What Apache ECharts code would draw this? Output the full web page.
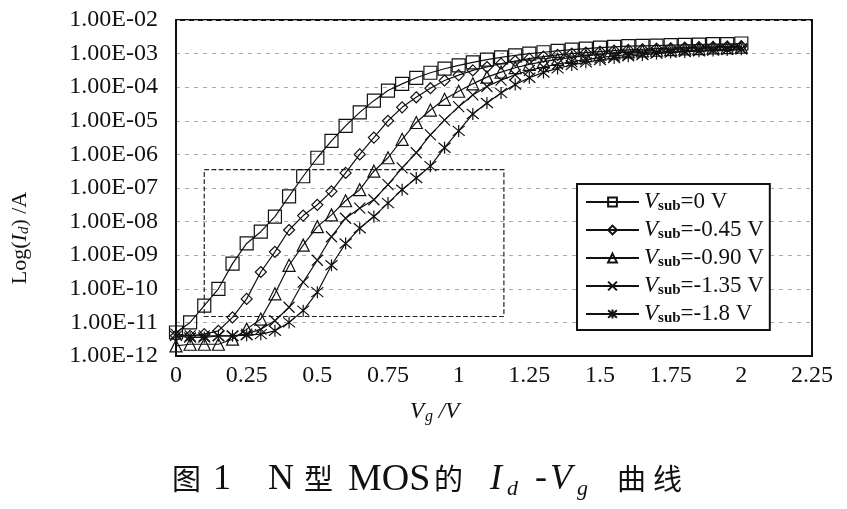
<!DOCTYPE html>
<html>
<head>
<meta charset="utf-8">
<script src="https://cdn.jsdelivr.net/npm/echarts@6/dist/echarts.min.js"></script>
<style>
  html, body { margin: 0; padding: 0; background: #fff; }
  #chart { width: 847px; height: 509px; }
</style>
</head>
<body>
<div id="chart"></div>
<script>
// gate voltage Vg (V)
var vg = [0, 0.05, 0.1, 0.15, 0.2, 0.25, 0.3, 0.35, 0.4, 0.45,
          0.5, 0.55, 0.6, 0.65, 0.7, 0.75, 0.8, 0.85, 0.9, 0.95,
          1.0, 1.05, 1.1, 1.15, 1.2, 1.25, 1.3, 1.35, 1.4, 1.45,
          1.5, 1.55, 1.6, 1.65, 1.7, 1.75, 1.8, 1.85, 1.9, 1.95, 2.0];

// log10(Id)
var sub0 = [-11.3, -11.0, -10.5, -10.0, -9.25, -8.65, -8.3, -7.85, -7.25, -6.65,
            -6.1, -5.6, -5.15, -4.75, -4.4, -4.1, -3.9, -3.72, -3.57, -3.45,
            -3.35, -3.26, -3.18, -3.11, -3.05, -3.0, -2.96, -2.92, -2.88, -2.85,
            -2.82, -2.8, -2.78, -2.77, -2.76, -2.75, -2.74, -2.73, -2.72, -2.72, -2.7];
var sub045 = [-11.4, -11.4, -11.35, -11.25, -10.85, -10.3, -9.5, -8.9, -8.25, -7.82,
              -7.5, -7.1, -6.55, -6.0, -5.5, -5.0, -4.6, -4.3, -4.03, -3.8,
              -3.64, -3.5, -3.4, -3.3, -3.22, -3.15, -3.09, -3.04, -3.0, -2.97,
              -2.94, -2.91, -2.89, -2.87, -2.85, -2.84, -2.82, -2.81, -2.8, -2.79, -2.78];
var sub090 = [-11.7, -11.65, -11.65, -11.65, -11.5, -11.2, -10.9, -10.15, -9.3, -8.7,
              -8.15, -7.8, -7.38, -7.05, -6.5, -6.1, -5.55, -5.05, -4.68, -4.36,
              -4.12, -3.9, -3.7, -3.55, -3.42, -3.32, -3.24, -3.17, -3.11, -3.06,
              -3.02, -2.98, -2.95, -2.92, -2.9, -2.88, -2.86, -2.85, -2.83, -2.82, -2.81];
var sub135 = [-11.35, -11.4, -11.4, -11.4, -11.4, -11.35, -11.2, -10.95, -10.55, -9.8,
              -9.15, -8.45, -7.9, -7.6, -7.35, -6.9, -6.4, -5.95, -5.42, -4.98,
              -4.58, -4.23, -3.98, -3.79, -3.63, -3.5, -3.4, -3.31, -3.24, -3.18,
              -3.12, -3.07, -3.03, -3.0, -2.97, -2.94, -2.92, -2.9, -2.88, -2.87, -2.85];
var sub180 = [-11.4, -11.45, -11.45, -11.4, -11.4, -11.38, -11.35, -11.25, -11.0, -10.65,
              -10.1, -9.3, -8.65, -8.2, -7.85, -7.45, -7.05, -6.7, -6.35, -5.8,
              -5.3, -4.8, -4.47, -4.17, -3.92, -3.72, -3.56, -3.44, -3.34, -3.26,
              -3.19, -3.13, -3.08, -3.04, -3.0, -2.97, -2.95, -2.93, -2.91, -2.89, -2.87];

var seriesNames = ['Vsub=0 V', 'Vsub=-0.45 V', 'Vsub=-0.90 V', 'Vsub=-1.35 V', 'Vsub=-1.8 V'];
var legendTail = ['=0 V', '=-0.45 V', '=-0.90 V', '=-1.35 V', '=-1.8 V'];
var seriesLogs = [sub0, sub045, sub090, sub135, sub180];

var serif = "'Liberation Serif', 'Times New Roman', serif";
var cjk = "'Noto Sans CJK SC', sans-serif";
var ink = '#111';
var xSym = 'path://M0,0 L10,10 M10,0 L0,10';
var starSym = 'path://M0,0 L10,10 M10,0 L0,10 M5,-1 L5,11';
var symbols = ['rect', 'diamond', 'triangle', xSym, starSym];
var symSizes = [13, 11, 12, 11, 12];

function pairs(logs) {
    var out = [];
    for (var i = 0; i < vg.length; i++) {
        out.push([vg[i], Math.pow(10, logs[i])]);
    }
    return out;
}

// caption pieces: text, x, font
function capText(txt, x, y, font, size, italic) {
    return {
        type: 'text', x: x, y: y, silent: true,
        style: {
            text: txt, fill: ink, fontFamily: font, fontSize: size,
            fontStyle: italic ? 'italic' : 'normal', fontWeight: 'normal',
            verticalAlign: 'middle', align: 'left'
        }
    };
}

var myChart = echarts.init(document.getElementById('chart'));

var series = [];
for (var k = 0; k < seriesNames.length; k++) {
    series.push({
        name: seriesNames[k],
        type: 'line',
        data: pairs(seriesLogs[k]),
        symbol: symbols[k],
        symbolSize: symSizes[k],
        showAllSymbol: true,
        lineStyle: { color: ink, width: 1.2 },
        itemStyle: { color: 'rgba(0,0,0,0)', borderColor: ink, borderWidth: 1.2 },
        emphasis: { disabled: true },
        z: 3
    });
}

// dashed box drawn inside the plot
series[0].markArea = {
    silent: true,
    itemStyle: { color: 'rgba(0,0,0,0)', borderColor: '#222', borderWidth: 1.2, borderType: 'dashed' },
    data: [[{ coord: [0.1, 3.5e-7] }, { coord: [1.16, 1.5e-11] }]]
};

option = {
    backgroundColor: '#fff',
    animation: false,
    title: {
        text: '{v|V}{g|g}{t| /V}',
        left: 405,
        top: 394,
        textStyle: {
            rich: {
                v: { fontFamily: serif, fontStyle: 'italic', fontWeight: 'normal', fontSize: 23, color: ink },
                g: { fontFamily: serif, fontStyle: 'italic', fontWeight: 'normal', fontSize: 16, color: ink, verticalAlign: 'bottom', padding: [10, 0, 0, 1] },
                t: { fontFamily: serif, fontStyle: 'italic', fontWeight: 'normal', fontSize: 23, color: ink }
            }
        }
    },
    graphic: [
        capText('图', 172, 479, cjk, 29),
        capText('1', 213, 480, serif, 36),
        capText('N', 268, 480, serif, 36),
        capText('型', 304, 479, cjk, 29),
        capText('MOS', 348, 480, serif, 38),
        capText('的', 434, 479, cjk, 29),
        capText('I', 490, 480, serif, 36, true),
        capText('d', 507, 489, serif, 22, true),
        capText('-', 535, 479, serif, 36),
        capText('V', 550, 480, serif, 36, true),
        capText('g', 577, 489, serif, 22, true),
        capText('曲', 617, 479, cjk, 29),
        capText('线', 653, 479, cjk, 29)
    ],
    legend: {
        orient: 'vertical',
        left: 577,
        top: 184,
        data: seriesNames,
        itemWidth: 53,
        itemHeight: 11,
        itemGap: 4,
        padding: [6, 6, 4, 8],
        borderColor: ink,
        borderWidth: 2,
        backgroundColor: '#fff',
        selectedMode: false,
        formatter: function (name) {
            var idx = seriesNames.indexOf(name);
            return '{v|V}{s|sub}{t|' + legendTail[idx] + '}';
        },
        textStyle: {
            lineHeight: 24,
            rich: {
                v: { fontFamily: serif, fontStyle: 'italic', fontSize: 23, color: ink },
                s: { fontFamily: serif, fontWeight: 'bold', fontSize: 15, color: ink, verticalAlign: 'bottom', padding: [8, 0, 0, 0] },
                t: { fontFamily: serif, fontSize: 23, color: ink }
            }
        }
    },
    grid: {
        left: 176,
        right: 35,
        top: 20,
        bottom: 153,
        show: true,
        borderColor: ink,
        borderWidth: 2,
        backgroundColor: '#fff'
    },
    xAxis: {
        type: 'value',
        min: 0,
        max: 2.25,
        interval: 0.25,
        axisLine: { show: true, lineStyle: { color: ink, width: 2 } },
        axisTick: { show: false },
        splitLine: { show: false },
        axisLabel: {
            margin: 8,
            fontFamily: serif,
            fontSize: 24,
            color: ink,
            showMaxLabel: true,
            formatter: function (v) { return String(+v.toFixed(2)); }
        }
    },
    yAxis: {
        type: 'log',
        logBase: 10,
        min: 1e-12,
        max: 1e-2,
        splitNumber: 10,
        name: '{n|Log(}{i|I}{d|d}{n|) /A}',
        nameLocation: 'middle',
        nameGap: 144,
        nameRotate: 90,
        nameTextStyle: {
            padding: [0, 100, 0, 0],
            rich: {
                n: { fontFamily: serif, fontSize: 22, color: ink },
                i: { fontFamily: serif, fontStyle: 'italic', fontSize: 22, color: ink },
                d: { fontFamily: serif, fontStyle: 'italic', fontSize: 15, color: ink, verticalAlign: 'bottom', padding: [9, 0, 0, 0] }
            }
        },
        axisLine: { show: true, lineStyle: { color: ink, width: 2 } },
        axisTick: { show: false },
        splitLine: { show: true, lineStyle: { color: '#aaa', type: [4, 5], width: 1 } },
        axisLabel: {
            margin: 18,
            fontFamily: serif,
            fontSize: 24,
            color: ink,
            formatter: function (v) {
                var e = Math.round(Math.log(v) / Math.LN10);
                var a = Math.abs(e);
                return '1.00E' + (e < 0 ? '-' : '+') + (a < 10 ? '0' + a : '' + a);
            }
        }
    },
    series: series
};

myChart.setOption(option);
</script>
</body>
</html>
